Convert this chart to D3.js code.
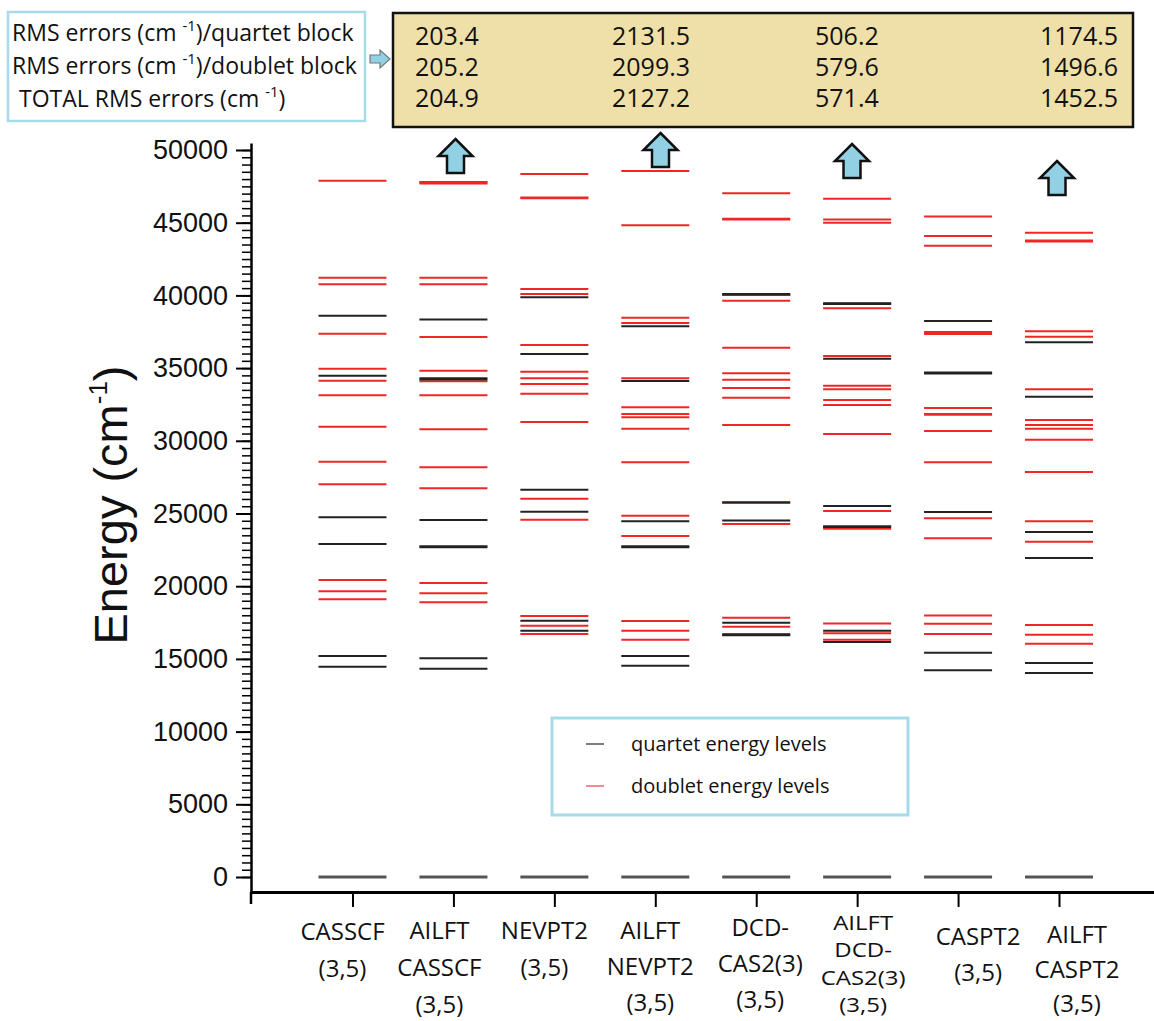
<!DOCTYPE html>
<html>
<head>
<meta charset="utf-8">
<script src="https://cdn.jsdelivr.net/npm/d3@7"></script>
<style>
body { margin: 0; background: #fff; }
</style>
</head>
<body>
<script>
var w = 1154, h = 1021;

// methods (x categories), each label split in lines
var categories = ["CASSCF (3,5)", "AILFT CASSCF (3,5)", "NEVPT2 (3,5)", "AILFT NEVPT2 (3,5)",
  "DCD-CAS2(3) (3,5)", "AILFT DCD-CAS2(3) (3,5)", "CASPT2 (3,5)", "AILFT CASPT2 (3,5)"];
var catLines = [["CASSCF", "(3,5)"], ["AILFT", "CASSCF", "(3,5)"], ["NEVPT2", "(3,5)"],
  ["AILFT", "NEVPT2", "(3,5)"], ["DCD-", "CAS2(3)", "(3,5)"], ["AILFT", "DCD-", "CAS2(3)", "(3,5)"],
  ["CASPT2", "(3,5)"], ["AILFT", "CASPT2", "(3,5)"]];

// energy levels, cm-1
var quartetLevels = [
  [0, 14460, 15200, 22900, 24740, 34480, 38600],
  [0, 14330, 15040, 22680, 22740, 24550, 34220, 34300, 38350],
  [0, 16940, 17630, 25120, 26640, 35970, 39870],
  [0, 14530, 15200, 22680, 22740, 24460, 34110, 37870],
  [0, 16630, 16690, 17490, 24510, 25740, 40040, 40100],
  [0, 16160, 16940, 24070, 24120, 25510, 35650, 39400, 39460],
  [0, 14220, 15430, 25100, 34630, 34690, 38240],
  [0, 14030, 14720, 21940, 23730, 33030, 36770]
];
var doubletLevels = [
  [19100, 19650, 20430, 27010, 28560, 30970, 33130, 34130, 34960, 37370, 40760, 41220, 47890],
  [18890, 19510, 20220, 26730, 28180, 30790, 33130, 34090, 34820, 37140, 40760, 41220, 47700, 47760, 47800],
  [16710, 17280, 17950, 24570, 26020, 31290, 33240, 33910, 34300, 34750, 36590, 40100, 40440, 46680, 46740, 48350],
  [16320, 16940, 17610, 23450, 24850, 28520, 30830, 31620, 31840, 32300, 34300, 38100, 38470, 44820, 48560],
  [16660, 17210, 17830, 24280, 25790, 31090, 32960, 33630, 34200, 34640, 36400, 39640, 40070, 45220, 45280, 47020],
  [16320, 16760, 17440, 23950, 25170, 30470, 32460, 32800, 33540, 33790, 35830, 39110, 39430, 45000, 45220, 46650],
  [16710, 17420, 17990, 23290, 24670, 28520, 30670, 31790, 31850, 32260, 34660, 37340, 37480, 43420, 44090, 45430],
  [16050, 16660, 17330, 23060, 24460, 27850, 30080, 30830, 31090, 31430, 33540, 37160, 37530, 43710, 43770, 44310]
];

// RMS errors table (AILFT methods)
var rmsQuartet = ["203.4", "2131.5", "506.2", "1174.5"];
var rmsDoublet = ["205.2", "2099.3", "579.6", "1496.6"];
var rmsTotal = ["204.9", "2127.2", "571.4", "1452.5"];
var rmsNames = ["quartet block", "doublet block", ""];

var yTicks = d3.range(0, 50001, 5000);
var yMinor = d3.range(0, 50001, 500);

var svg = d3.select("body").append("svg")
  .attr("width", w).attr("height", h)
  .style("font-family", "'Open Sans', sans-serif");

var x = d3.scaleLinear().domain([0, 7]).range([352.5, 1059]);
var y = d3.scaleLinear().domain([0, 50000]).range([877, 150]);
var half = 34;

// y axis
var yAx = y.copy().domain([-1030, 50480]).range([y(-1030), y(50480)]);
svg.append("g").attr("transform", "translate(251,0)")
  .call(d3.axisLeft(yAx).tickValues(yMinor).tickSize(9).tickFormat("").tickSizeOuter(0))
  .call(function(g){ g.select(".domain").remove(); g.selectAll("line").attr("stroke-width", 1.5); });
var yg = svg.append("g").attr("transform", "translate(251,0)")
  .call(d3.axisLeft(yAx).tickValues(yTicks).tickSize(15).tickPadding(8).tickSizeOuter(0)
    .tickFormat(d3.format("d")));
yg.select(".domain").attr("stroke-width", 2.5);
yg.selectAll("line").attr("stroke-width", 2);
yg.selectAll("text").attr("font-family", "'Liberation Sans', Arial, sans-serif")
  .attr("font-size", 27).attr("fill", "#111");
svg.append("line").attr("x1", 251).attr("x2", 251).attr("y1", y(-1030)).attr("y2", 904)
  .attr("stroke", "#000").attr("stroke-width", 2.5);

// x axis
var xAx = x.copy().domain([x.invert(250), x.invert(1154)]).range([250, 1154]);
var xg = svg.append("g").attr("transform", "translate(0," + y(-1030) + ")")
  .call(d3.axisBottom(xAx).tickValues(d3.range(8)).tickFormat("").tickSize(15).tickSizeOuter(0));
xg.select(".domain").attr("stroke-width", 3);
xg.selectAll("line").attr("stroke-width", 2);

// category labels (the 4-line one is squeezed vertically to fit)
var labTop = [931, 930, 930, 930, 927, 921, 936, 934];
var labGap = [37, 37, 37, 36, 36, 27.5, 36, 34.5];
var labDx = [-10, -14, -10, -5, 4, 6, 20, 18];
var labSy = [1, 1, 1, 1, 1, 0.85, 1, 1];
categories.forEach(function(c, i){
  var t = svg.append("text")
    .attr("transform", "translate(" + (x(i) + labDx[i]) + "," + (labTop[i] + 9) + ") scale(1," + labSy[i] + ")")
    .attr("text-anchor", "middle").attr("font-size", 24).attr("fill", "#111");
  catLines[i].forEach(function(s, j){
    t.append("tspan").attr("x", 0).attr("y", j * labGap[i] / labSy[i]).text(s);
  });
});

// y axis title
var yt = svg.append("text").attr("transform", "translate(127,505) rotate(-90)")
  .attr("text-anchor", "middle").attr("font-family", "'Liberation Sans', Arial, sans-serif")
  .attr("font-size", 47).attr("fill", "#111");
yt.append("tspan").text("Energy (cm");
yt.append("tspan").attr("font-size", 26).attr("dy", -20).text("-1");
yt.append("tspan").attr("dy", 20).text(")");

// energy levels
var cols = svg.append("g");
doubletLevels.forEach(function(arr, i){
  cols.selectAll(null).data(arr).enter().append("line")
    .attr("x1", x(i) - half).attr("x2", x(i) + half)
    .attr("y1", function(d){ return y(d); }).attr("y2", function(d){ return y(d); })
    .attr("stroke", "#f02626").attr("stroke-width", 2);
});
quartetLevels.forEach(function(arr, i){
  cols.selectAll(null).data(arr).enter().append("line")
    .attr("x1", x(i) - half).attr("x2", x(i) + half)
    .attr("y1", function(d){ return y(d); }).attr("y2", function(d){ return y(d); })
    .attr("stroke", function(d){ return d === 0 ? "#555" : "#222"; })
    .attr("stroke-width", function(d){ return d === 0 ? 3 : 2; });
});

// up arrows above the AILFT columns
var arrowTop = [139, 133, 144, 161];
var arrowX = [455.5, 660.5, 852, 1057];
arrowTop.forEach(function(t, k){
  var cx = arrowX[k];
  var p = d3.path();
  p.moveTo(cx, t); p.lineTo(cx + 17, t + 17); p.lineTo(cx + 8.5, t + 17); p.lineTo(cx + 8.5, t + 34);
  p.lineTo(cx - 8.5, t + 34); p.lineTo(cx - 8.5, t + 17); p.lineTo(cx - 17, t + 17); p.closePath();
  svg.append("path").attr("d", p.toString()).attr("fill", "#92d0e4")
    .attr("stroke", "#111").attr("stroke-width", 2.5).attr("stroke-linejoin", "miter");
});

// legend
svg.append("rect").attr("x", 552).attr("y", 718).attr("width", 356).attr("height", 97)
  .attr("fill", "#fff").attr("stroke", "#a6dbe8").attr("stroke-width", 3);
[["quartet energy levels", "#555"], ["doublet energy levels", "#f06070"]].forEach(function(l, i){
  var ly = 744 + i * 42;
  svg.append("line").attr("x1", 586).attr("x2", 604).attr("y1", ly).attr("y2", ly)
    .attr("stroke", l[1]).attr("stroke-width", 1.5);
  svg.append("text").attr("x", 631).attr("y", ly + 7).attr("font-size", 20).attr("fill", "#111").text(l[0]);
});

// RMS label box
svg.append("rect").attr("x", 8).attr("y", 12).attr("width", 357).attr("height", 109)
  .attr("fill", "#fff").attr("stroke", "#a6dbe8").attr("stroke-width", 2.5);
var rowY = [41, 74, 107];
rmsNames.forEach(function(n, i){
  var t = svg.append("text").attr("x", i === 2 ? 19 : 12).attr("y", rowY[i])
    .attr("font-size", 23).attr("fill", "#111");
  t.append("tspan").text(i === 2 ? "TOTAL RMS errors (cm " : "RMS errors (cm ");
  t.append("tspan").attr("font-size", 15).attr("dy", -10).text("-1");
  t.append("tspan").attr("dy", 10).text(i === 2 ? ")" : ")/" + n);
});

// small right arrow
var sa = d3.path();
sa.moveTo(370, 55); sa.lineTo(380, 55); sa.lineTo(380, 50); sa.lineTo(390, 59);
sa.lineTo(380, 68); sa.lineTo(380, 63); sa.lineTo(370, 63); sa.closePath();
svg.append("path").attr("d", sa.toString()).attr("fill", "#92d0e4").attr("stroke", "#777").attr("stroke-width", 1.2);

// RMS table
svg.append("rect").attr("x", 393).attr("y", 13).attr("width", 740).attr("height", 114)
  .attr("fill", "#efdfa8").attr("stroke", "#111").attr("stroke-width", 2.5);
var colX = [415, 612, 815, 1040];
var tY = [45, 76, 107];
[rmsQuartet, rmsDoublet, rmsTotal].forEach(function(row, r){
  svg.selectAll(null).data(row).enter().append("text")
    .attr("x", function(d, i){ return colX[i]; }).attr("y", tY[r])
    .attr("font-size", 25).attr("fill", "#111").text(function(d){ return d; });
});
</script>
</body>
</html>
